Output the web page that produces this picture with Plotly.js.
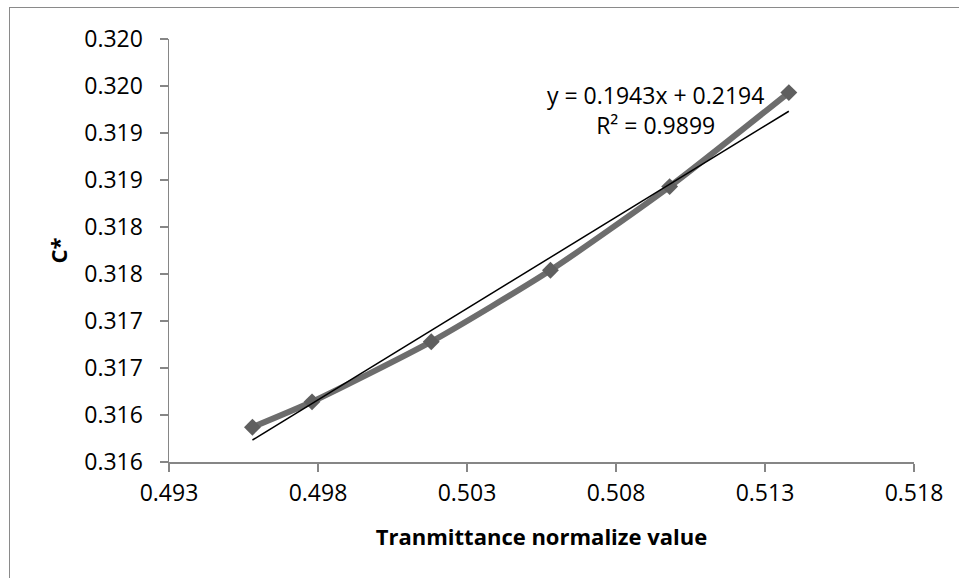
<!DOCTYPE html>
<html>
<head>
<meta charset="utf-8">
<script src="https://cdn.plot.ly/plotly-3.0.1.min.js"></script>
<style>
  html, body { margin: 0; padding: 0; background: #ffffff; overflow: hidden; }
  #wrap { position: relative; width: 959px; height: 578px; }
  #frame { position: absolute; left: 9px; top: 7px; width: 1000px; height: 1000px; border: 1.5px solid #8a8a8a; box-sizing: border-box; }
  #chart { position: absolute; left: 0; top: 0; width: 959px; height: 578px; }
</style>
</head>
<body>
<div id="wrap">
  <div id="frame"></div>
  <div id="chart"></div>
</div>
<script>
// Data
const xValues = [0.4958, 0.4978, 0.5018, 0.5058, 0.5098, 0.5138];
const yValues = [0.31587, 0.31614, 0.31678, 0.31754, 0.31843, 0.31943];

// Trendline as printed on the chart
const trendSlope = 0.1943;
const trendIntercept = 0.2194;
const equationText = "y = 0.1943x + 0.2194";
const r2Text = "R² = 0.9899";

// Axis ticks and labels (as displayed, rounded by the original software)
const xTickVals = [0.493, 0.498, 0.503, 0.508, 0.513, 0.518];
const xTickText = ["0.493", "0.498", "0.503", "0.508", "0.513", "0.518"];
const yTickVals = [0.3155, 0.3160, 0.3165, 0.3170, 0.3175, 0.3180, 0.3185, 0.3190, 0.3195, 0.3200];
const yTickText = ["0.316", "0.316", "0.317", "0.317", "0.318", "0.318", "0.319", "0.319", "0.320", "0.320"];

const xTitle = "Tranmittance normalize value";
const yTitle = "C*";

const xMin = Math.min(...xValues), xMax = Math.max(...xValues);
const trendX = [xMin, xMax];
const trendY = trendX.map(v => trendSlope * v + trendIntercept);

const font = "Open Sans, Lato, Liberation Sans, sans-serif";
const axisColor = "#868686";

const traces = [
  {
    x: xValues, y: yValues, type: "scatter", mode: "lines+markers",
    line: { color: "#6d6d6d", width: 6, shape: "spline", smoothing: 0.6 },
    marker: { symbol: "diamond", size: 13, color: "#5f5f5f" },
    hoverinfo: "x+y", showlegend: false
  },
  {
    x: trendX, y: trendY, type: "scatter", mode: "lines",
    line: { color: "#000000", width: 1.5 },
    hoverinfo: "skip", showlegend: false
  }
];

const layout = {
  width: 959, height: 578,
  margin: { l: 169, r: 45, t: 39, b: 116 },
  paper_bgcolor: "rgba(0,0,0,0)",
  plot_bgcolor: "rgba(0,0,0,0)",
  font: { family: font, size: 23, color: "#000000" },
  xaxis: {
    range: [0.493, 0.518], tickvals: xTickVals, ticktext: xTickText,
    showgrid: false, zeroline: false, showline: true, linecolor: axisColor, linewidth: 1.5,
    ticks: "outside", ticklen: 8, tickwidth: 1.5, tickcolor: axisColor,
    ticklabelstandoff: 2,
    tickfont: { family: font, size: 23, color: "#000000" },
    title: { text: "<b>" + xTitle + "</b>", font: { family: font, size: 22, color: "#000000" }, standoff: 22 }
  },
  yaxis: {
    range: [0.3155, 0.3200], tickvals: yTickVals, ticktext: yTickText,
    showgrid: false, zeroline: false, showline: true, linecolor: axisColor, linewidth: 1.5,
    ticks: "outside", ticklen: 8, tickwidth: 1.5, tickcolor: axisColor,
    ticklabelstandoff: 12,
    tickfont: { family: font, size: 23, color: "#000000" },
    title: { text: "<b>" + yTitle + "</b>", font: { family: font, size: 22, color: "#000000" }, standoff: 10 }
  },
  annotations: [
    {
      xref: "x", yref: "y", x: 0.50934, y: 0.31924,
      text: equationText + "<br>" + r2Text, showarrow: false, align: "center",
      font: { family: font, size: 23, color: "#000000" }
    }
  ]
};

Plotly.newPlot("chart", traces, layout, { displayModeBar: false, staticPlot: true });
</script>
</body>
</html>
